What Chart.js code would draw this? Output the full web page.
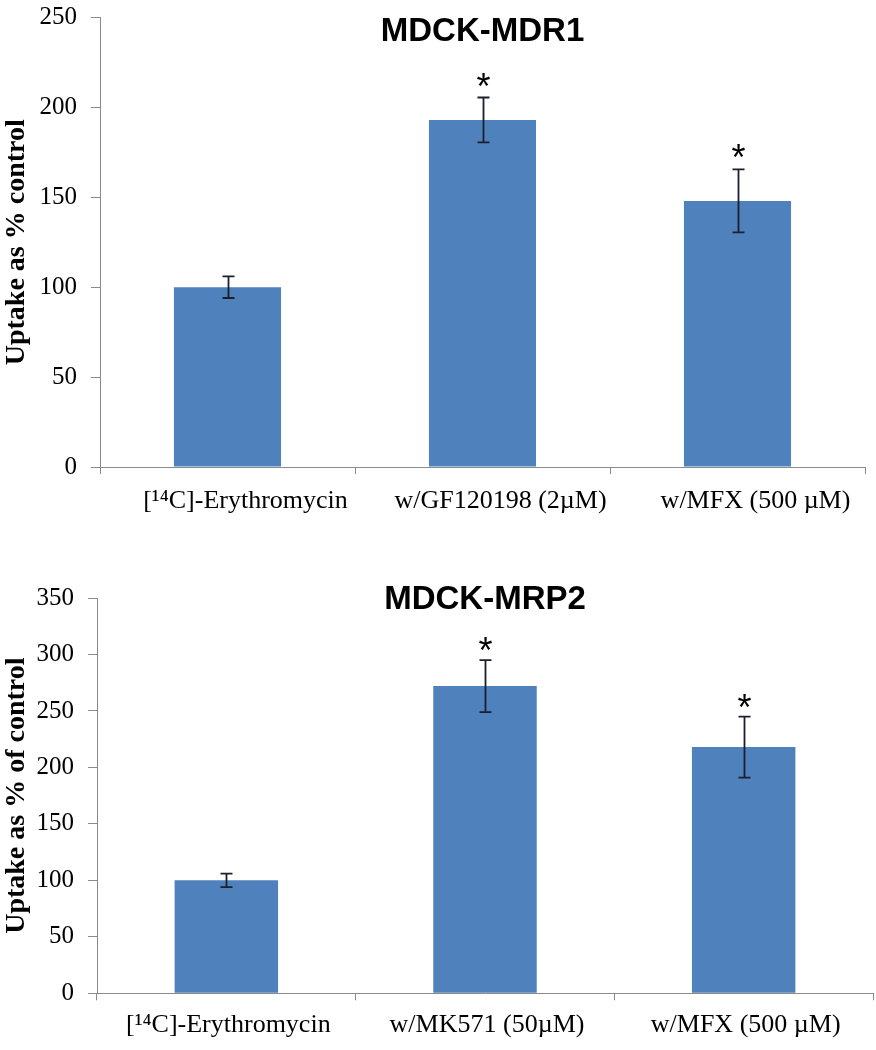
<!DOCTYPE html>
<html>
<head>
<meta charset="utf-8">
<script src="https://cdn.jsdelivr.net/npm/chart.js@4/dist/chart.umd.min.js"></script>
<style>
  html, body { margin: 0; padding: 0; background: #ffffff; }
  #wrap { position: relative; width: 876px; height: 1050px; overflow: hidden; }
  #c1 { position: absolute; left: 0; top: 0; }
  #c2 { position: absolute; left: 0; top: 540px; }
</style>
</head>
<body>
<div id="wrap">
  <canvas id="c1" width="876" height="540"></canvas>
  <canvas id="c2" width="876" height="510"></canvas>
</div>
<script>
// ---------- data ----------
const titleMDR1 = 'MDCK-MDR1';
const categoriesMDR1 = ['[\u00B9\u2074C]-Erythromycin', 'w/GF120198 (2\u00B5M)', 'w/MFX (500 \u00B5M)'];
const uptakeMDR1 = [100, 193, 148];
const errorMDR1 = [6, 12.5, 17.5];
const signifMDR1 = [false, true, true];
const yMaxMDR1 = 250;
const yStepMDR1 = 50;
const yTitleMDR1 = 'Uptake as % control';

const titleMRP2 = 'MDCK-MRP2';
const categoriesMRP2 = ['[\u00B9\u2074C]-Erythromycin', 'w/MK571 (50\u00B5M)', 'w/MFX (500 \u00B5M)'];
const uptakeMRP2 = [100, 272, 218];
const errorMRP2 = [6, 23, 27];
const signifMRP2 = [false, true, true];
const yMaxMRP2 = 350;
const yStepMRP2 = 50;
const yTitleMRP2 = 'Uptake as % of control';

// ---------- styles ----------
const BAR_COLOR = '#4F81BD';
const AXIS_COLOR = '#8a8a8a';
const SERIF = "'Liberation Serif', 'Times New Roman', serif";
const SANS = "'Liberation Sans', Arial, sans-serif";

const errorBarPlugin = {
  id: 'errorBars',
  afterDatasetsDraw(chart, args, opts) {
    const ctx = chart.ctx;
    const y = chart.scales.y;
    const meta = chart.getDatasetMeta(0);
    const vals = chart.data.datasets[0].data;
    ctx.save();
    ctx.strokeStyle = '#1c1f2e';
    ctx.lineWidth = 1.8;
    ctx.fillStyle = '#000000';
    ctx.font = '36px ' + SANS;
    ctx.textAlign = 'center';
    ctx.textBaseline = 'alphabetic';
    const cap = 6;
    meta.data.forEach((bar, i) => {
      const v = vals[i], e = opts.errors[i];
      const cx = Math.round(bar.x) + 0.5;
      const yTop = y.getPixelForValue(v + e);
      const yBot = y.getPixelForValue(v - e);
      ctx.beginPath();
      ctx.moveTo(cx, yTop); ctx.lineTo(cx, yBot);
      ctx.moveTo(cx - cap, yTop); ctx.lineTo(cx + cap, yTop);
      ctx.moveTo(cx - cap, yBot); ctx.lineTo(cx + cap, yBot);
      ctx.stroke();
      if (opts.signif[i]) {
        const starCenter = yTop - opts.starGap;
        ctx.fillText('*', cx, starCenter + 21);
      }
    });
    ctx.restore();
  }
};

function makeChart(canvasId, cfg) {
  return new Chart(document.getElementById(canvasId), {
    type: 'bar',
    data: {
      labels: cfg.labels,
      datasets: [{
        data: cfg.values,
        backgroundColor: BAR_COLOR,
        borderWidth: 0,
        categoryPercentage: 1.0,
        barPercentage: cfg.barPct
      }]
    },
    options: {
      responsive: false,
      animation: false,
      events: [],
      layout: { padding: { left: 0, right: cfg.padRight, top: 0, bottom: 0 } },
      plugins: {
        legend: { display: false },
        tooltip: { enabled: false },
        title: {
          display: true,
          text: cfg.title,
          fullSize: false,
          color: '#000000',
          font: { family: SANS, size: 33, weight: 'bold', lineHeight: 1.2 },
          padding: { top: cfg.titlePadTop, bottom: cfg.titlePadBottom }
        },
        errorBars: { errors: cfg.errors, signif: cfg.signif, starGap: cfg.starGap }
      },
      scales: {
        x: {
          offset: true,
          grid: {
            display: true, offset: true, drawOnChartArea: false, drawTicks: true,
            tickLength: 7, color: AXIS_COLOR, lineWidth: 1
          },
          border: { display: true, color: AXIS_COLOR, width: 1 },
          ticks: {
            color: '#000000', padding: cfg.xPad, maxRotation: 0, autoSkip: false,
            labelOffset: cfg.xLabelOffset,
            font: { family: SERIF, size: 26, weight: 'normal' }
          },
          afterFit(s) { s.height = cfg.xHeight; }
        },
        y: {
          min: 0,
          max: cfg.yMax,
          grid: {
            display: true, drawOnChartArea: false, drawTicks: true,
            tickLength: 9, color: AXIS_COLOR, lineWidth: 1
          },
          border: { display: true, color: AXIS_COLOR, width: 1 },
          ticks: {
            stepSize: cfg.yStep, color: '#000000', padding: 14,
            font: { family: SERIF, size: 25, weight: 'normal' }
          },
          title: {
            display: true, text: cfg.yTitle, color: '#000000', padding: 0,
            font: { family: SERIF, size: 28, weight: 'bold', lineHeight: 1.2 }
          },
          afterFit(s) {
            s.width = cfg.yWidth;
            s.paddingTop = 8;
            s.paddingBottom = 8;
          }
        }
      }
    },
    plugins: [errorBarPlugin]
  });
}

makeChart('c1', {
  labels: categoriesMDR1, values: uptakeMDR1, errors: errorMDR1, signif: signifMDR1,
  title: titleMDR1, yTitle: yTitleMDR1, yMax: yMaxMDR1, yStep: yStepMDR1,
  barPct: 0.42, padRight: 11, yWidth: 100, xHeight: 73, xPad: 12, xLabelOffset: 18,
  titlePadTop: 12.2, titlePadBottom: -34.3, starGap: 20
});

makeChart('c2', {
  labels: categoriesMRP2, values: uptakeMRP2, errors: errorMRP2, signif: signifMRP2,
  title: titleMRP2, yTitle: yTitleMRP2, yMax: yMaxMRP2, yStep: yStepMRP2,
  barPct: 0.40, padRight: 3, yWidth: 97, xHeight: 56.7, xPad: 9, xLabelOffset: 2,
  titlePadTop: 40.2, titlePadBottom: -21.8, starGap: 18
});
</script>
</body>
</html>
